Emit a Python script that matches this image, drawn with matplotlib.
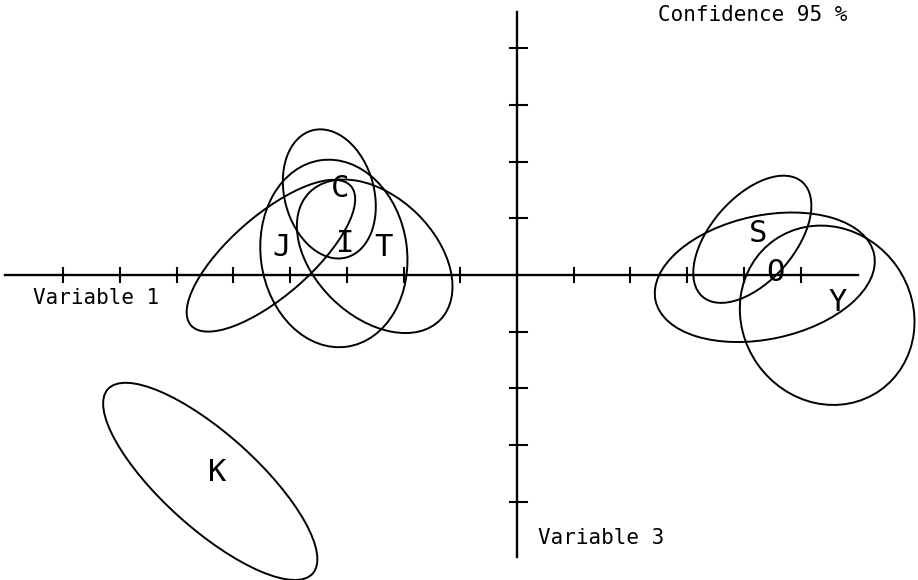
import matplotlib
matplotlib.use('Agg')
import matplotlib.pyplot as plt
from matplotlib.patches import Ellipse

# confidence ellipses (Variable 1 vs Variable 3)
groups = ['C', 'I', 'J', 'T', 'S', 'O', 'Y', 'K']
cx = [-3.31, -3.23, -4.34, -2.51, 4.15, 4.37, 5.47, -5.41]
cy = [1.43, 0.38, 0.34, 0.33, 0.63, -0.04, -0.71, -3.64]
semi_a = [1.16, 1.66, 1.87, 1.61, 1.34, 1.97, 1.62, 2.43]
semi_b = [0.79, 1.29, 0.71, 1.06, 0.74, 1.09, 1.50, 0.83]
angle = [105, 98, 41, -44, 49, 12, -55, -42]

# where each letter sits
lab_x = [-3.12, -3.03, -4.15, -2.36, 4.25, 4.55, 5.66, -5.29]
lab_y = [1.53, 0.56, 0.49, 0.49, 0.74, 0.05, -0.49, -3.49]

xticks = [-8, -7, -6, -5, -4, -3, -2, -1, 1, 2, 3, 4, 5]
yticks = [-4, -3, -2, -1, 1, 2, 3, 4]

mono = 'DejaVu Sans Mono'

fig = plt.figure(figsize=(9.18, 5.80), dpi=100)
ax = fig.add_axes([0, 0, 1, 1])
ax.set_xlim(-9.118, 7.072)
ax.set_ylim(-5.379, 4.850)
ax.axis('off')

# axes through the origin
ax.plot([-9.03, 6.01], [0, 0], color='black', lw=1.7)
ax.plot([0, 0], [-4.97, 4.64], color='black', lw=1.7)
for t in xticks:
    ax.plot([t, t], [-0.12, 0.12], color='black', lw=1.5)
for t in yticks:
    ax.plot([-0.13, 0.17], [t, t], color='black', lw=1.5)

for i in range(len(groups)):
    e = Ellipse((cx[i], cy[i]), 2 * semi_a[i], 2 * semi_b[i], angle=angle[i],
                fill=False, edgecolor='black', lw=1.4)
    ax.add_patch(e)
    ax.text(lab_x[i], lab_y[i], groups[i], fontsize=22, family=mono,
            ha='center', va='center', color='black')

ax.text(-8.536, -0.406, 'Variable 1', fontsize=15, family=mono, ha='left', va='center')
ax.text(0.37, -4.638, 'Variable 3', fontsize=15, family=mono, ha='left', va='center')
ax.text(2.487, 4.586, 'Confidence 95 %', fontsize=15, family=mono, ha='left', va='center')

fig.savefig('out.png', dpi=100)
